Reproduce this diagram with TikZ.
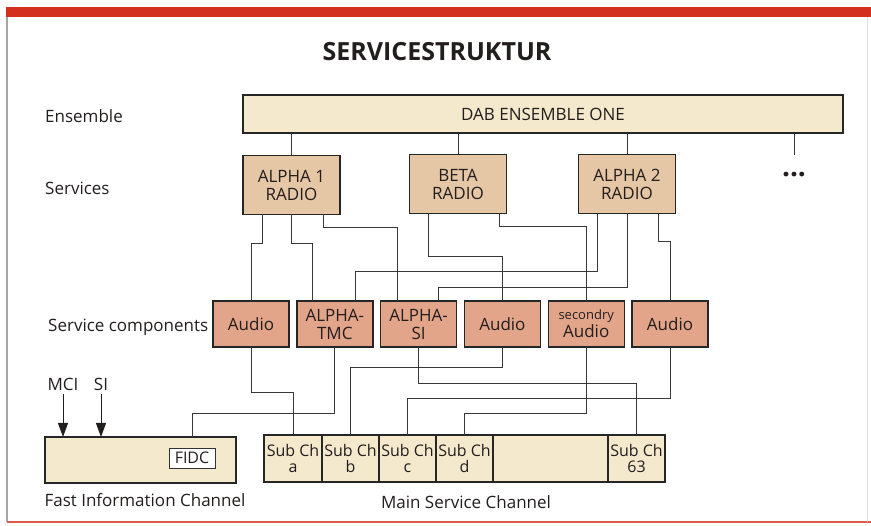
\documentclass[tikz,border=0pt]{standalone}
\usepackage{fontspec}
\setmainfont{Open Sans}
\usepackage{xcolor}
\usepackage{tikz}
\usetikzlibrary{arrows.meta, positioning}

\definecolor{ensfill}{RGB}{245,233,205}
\definecolor{servfill}{RGB}{229,198,165}
\definecolor{compfill}{RGB}{227,165,137}
\definecolor{wirecol}{RGB}{60,55,55}
\definecolor{framered}{RGB}{212,48,32}
\definecolor{txtcol}{RGB}{35,30,30}

\begin{document}
\begin{tikzpicture}[x=1pt, y=-1pt,
	font=\fontsize{17}{18}\selectfont,
	box/.style={draw=black!85, line width=1.4pt, outer sep=0pt, inner sep=0pt, align=center, text=txtcol},
	ensbox/.style={box, fill=ensfill},
	servbox/.style={box, fill=servfill, minimum width=97pt, minimum height=59pt},
	compbox/.style={box, fill=compfill, minimum width=76pt, minimum height=46pt},
	subbox/.style={box, fill=ensfill, minimum width=57pt, minimum height=47pt, font=\fontsize{16}{16}\selectfont},
	wire/.style={draw=wirecol, line width=0.7pt},
	sig/.style={draw=txtcol, line width=1pt, -{Triangle[length=14pt, width=10pt]}},
	lbl/.style={anchor=west, inner sep=0pt, text=txtcol}]
	\useasboundingbox (0,0) rectangle (871,526);
	% Frame
	\fill[framered] (6,7) rectangle (871,17);
	\draw[gray!70, line width=1.2pt] (7,17) -- (7,522);
	\draw[framered!80, line width=1.5pt] (7,522) -- (871,522);
	\draw[gray!25, line width=0.8pt] (867,17) -- (867,522);
	% Title
	\node[font=\fontsize{25}{25}\selectfont\bfseries, text=txtcol] (title) at (437,52) {SERVICESTRUKTUR};
	% Row labels
	\node[lbl] (lblens) at (45,116) {Ensemble};
	\node[lbl] (lblserv) at (45,188) {Services};
	\node[lbl] (lblcomp) at (48,327) {Service components};
	% Ensemble
	\node[ensbox,
	minimum width=600pt,
	minimum height=38pt] (ensemble) at (543,114) {DAB ENSEMBLE ONE};
	% Services
	\node[servbox] (alpha1) at (291.5,185) {ALPHA 1\\RADIO};
	\node[servbox] (beta) at (458,184) {BETA\\RADIO};
	\node[servbox] (alpha2) at (627,184) {ALPHA 2\\RADIO};
	\coordinate (more) at (794,155);
	\node[font=\fontsize{28}{28}\selectfont\bfseries, text=txtcol] (dots) at (794,175) {...};
	% Service components
	\node[compbox] (audioA) at (251,324) {Audio};
	\node[compbox, right=7.8pt of audioA] (tmc) {ALPHA-\\TMC};
	\node[compbox, right=7.8pt of tmc] (alphasi) {ALPHA-\\SI};
	\node[compbox, right=7.8pt of alphasi] (audioB) {Audio};
	\node[compbox, right=7.8pt of audioB] (secaudio) {{\fontsize{13}{13}\selectfont secondry}\\Audio};
	\node[compbox, right=7.8pt of secaudio] (audioC) {Audio};
	% Fast Information Channel
	\node[ensbox,
	minimum width=191pt,
	minimum height=46pt] (fic) at (140.5,460) {};
	\node[draw=black!80, line width=0.7pt, fill=white,
	minimum width=46pt, minimum height=20pt, inner sep=0pt,
	font=\fontsize{16}{16}\selectfont, text=txtcol] (fidc) at (192,458) {FIDC};
	\node[text=txtcol] (mci) at (63,384) {MCI};
	\node[text=txtcol] (si) at (101,384) {SI};
	\node[text=txtcol] (ficlbl) at (145,500) {Fast Information Channel};
	% Main Service Channel
	\node[subbox, minimum width=58pt] (subA) at (293,458.5) {Sub Ch\\a};
	\node[subbox, right=0pt of subA] (subB) {Sub Ch\\b};
	\node[subbox, right=0pt of subB] (subC) {Sub Ch\\c};
	\node[subbox, right=0pt of subC] (subD) {Sub Ch\\d};
	\node[subbox, right=0pt of subD, minimum width=115pt] (subE) {};
	\node[subbox, right=0pt of subE] (sub63) {Sub Ch\\63};
	\node[text=txtcol] (msclbl) at (466,502) {Main Service Channel};
	% Ensemble to services
	\draw[wire] (ensemble.south -| alpha1.north) -- (alpha1.north);
	\draw[wire] (ensemble.south -| beta.north) -- (beta.north);
	\draw[wire] (ensemble.south -| alpha2.north) -- (alpha2.north);
	\draw[wire] (ensemble.south -| more) -- (more);
	% Services to components
	\draw[wire] ([xshift=-29.5pt]alpha1.south) |- (audioA.north |- 0,243) -- (audioA.north);
	\draw[wire] (alpha1.south) |- ([xshift=-22pt]tmc.north |- 0,243) -- ([xshift=-22pt]tmc.north);
	\draw[wire] ([xshift=31.5pt]alpha1.south) |- ([xshift=-21pt]alphasi.north |- 0,227) -- ([xshift=-21pt]alphasi.north);
	\draw[wire] ([xshift=-30pt]beta.south) |- (audioB.north |- 0,256) -- (audioB.north);
	\draw[wire] ([xshift=41pt]beta.south) |- (secaudio.north |- 0,226) -- (secaudio.north);
	\draw[wire] ([xshift=-30pt]alpha2.south) |- ([xshift=21pt]tmc.north |- 0,271) -- ([xshift=21pt]tmc.north);
	\draw[wire] (alpha2.south) |- ([xshift=20pt]alphasi.north |- 0,287) -- ([xshift=20pt]alphasi.north);
	\draw[wire] ([xshift=31pt]alpha2.south) |- (audioC.north |- 0,241) -- (audioC.north);
	% Components to channels
	\draw[wire] (audioA.south) |- (subA.north |- 0,392) -- (subA.north);
	\draw[wire] (tmc.south) |- (fidc.north |- 0,413) -- (fidc.north |- fic.north);
	\draw[wire] (audioB.south) |- (subB.north |- 0,367) -- (subB.north);
	\draw[wire] (alphasi.south) |- (sub63.north |- 0,383) -- (sub63.north);
	\draw[wire] (audioC.south) |- (subC.north |- 0,398) -- (subC.north);
	\draw[wire] (secaudio.south) |- (subD.north |- 0,413) -- (subD.north);
	% MCI and SI
	\draw[sig] (mci) -- (mci |- fic.north);
	\draw[sig] (si) -- (si |- fic.north);
\end{tikzpicture}
\end{document}
